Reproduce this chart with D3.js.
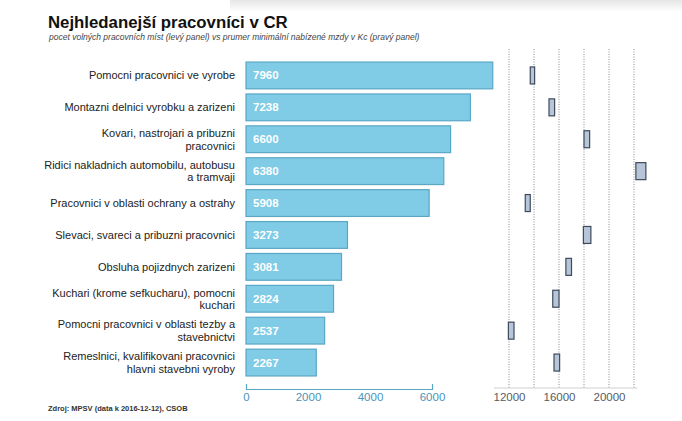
<!DOCTYPE html>
<html><head><meta charset="utf-8">
<script src="https://cdn.jsdelivr.net/npm/d3@7"></script>
<style>body{margin:0;background:#fff}svg{display:block;font-family:Arial,"Liberation Sans",sans-serif}</style>
</head><body>
<script>
const categories = [
  "Pomocni pracovnici ve vyrobe",
  "Montazni delnici vyrobku a zarizeni",
  "Kovari, nastrojari a pribuzni|pracovnici",
  "Ridici nakladnich automobilu, autobusu|a tramvaji",
  "Pracovnici v oblasti ochrany a ostrahy",
  "Slevaci, svareci a pribuzni pracovnici",
  "Obsluha pojizdnych zarizeni",
  "Kuchari (krome sefkucharu), pomocni|kuchari",
  "Pomocni pracovnici v oblasti tezby a|stavebnictvi",
  "Remeslnici, kvalifikovani pracovnici|hlavni stavebni vyroby"
];
const vacancies = [7960, 7238, 6600, 6380, 5908, 3273, 3081, 2824, 2537, 2267];
const wageLow  = [13700, 15200, 18000, 22150, 13300, 17950, 16550, 15500, 11950, 15600];
const wageHigh = [14050, 15650, 18450, 22950, 13700, 18550, 17000, 16000, 12400, 16050];
const leftTicks = [0, 2000, 4000, 6000];
const rightTicks = [12000, 16000, 20000];
const rightGrid = [12000, 14000, 16000, 18000, 20000, 22000];

const W = 682, H = 421;
const svg = d3.select("body").append("svg").attr("width", W).attr("height", H);

// faint photo shading at top
const grad = svg.append("defs").append("linearGradient").attr("id","tg").attr("x1",0).attr("y1",0).attr("x2",0).attr("y2",1);
grad.append("stop").attr("offset",0).attr("stop-color","#e6e6e6");
grad.append("stop").attr("offset",1).attr("stop-color","#ffffff");
svg.append("rect").attr("x",230).attr("y",0).attr("width",452).attr("height",12).attr("fill","url(#tg)");

svg.append("text").attr("x", 48).attr("y", 28).attr("font-size", 16.8).attr("font-weight", "bold")
  .attr("fill", "#111").text("Nejhledanejší pracovníci v CR");
svg.append("text").attr("x", 49).attr("y", 40).attr("font-size", 8.5).attr("font-style", "italic")
  .attr("fill", "#444").text("pocet volných pracovních míst (levý panel) vs prumer minimální nabízené mzdy v Kc (pravý panel)");

const y = d3.scaleBand().domain(d3.range(categories.length)).range([59.5, 378.5]).paddingInner(0.16).paddingOuter(0.08);
const xL = d3.scaleLinear().domain([0, 6000]).range([246, 432]);
const xR = d3.scaleLinear().domain([12000, 20000]).range([509, 609]);

// right gridlines
svg.append("g").selectAll("line").data(rightGrid).join("line")
  .attr("x1", d => xR(d)).attr("x2", d => xR(d)).attr("y1", 49).attr("y2", 388)
  .attr("stroke", "#8a8a8a").attr("stroke-width", 1).attr("stroke-dasharray", "1,1.5");

// bars
svg.append("g").selectAll("rect").data(vacancies).join("rect")
  .attr("x", xL(0)).attr("y", (d, i) => y(i))
  .attr("width", d => xL(d) - xL(0)).attr("height", y.bandwidth())
  .attr("fill", "#80cbe6").attr("stroke", "#5aa7c4").attr("stroke-width", 1.2);
svg.append("g").selectAll("text").data(vacancies).join("text")
  .attr("x", xL(0) + 7).attr("y", (d, i) => y(i) + y.bandwidth() / 2 + 4)
  .attr("font-size", 11.5).attr("font-weight", "bold").attr("fill", "#fff").text(d => d);

// category labels
const lab = svg.append("g").selectAll("text").data(categories).join("text")
  .attr("text-anchor", "end").attr("font-size", 11).attr("fill", "#222");
lab.each(function (d, i) {
  const lines = d.split("|");
  const cy = y(i) + y.bandwidth() / 2;
  const t = d3.select(this);
  lines.forEach((ln, k) => {
    t.append("tspan").attr("x", 235)
      .attr("y", cy + 4 + (k - (lines.length - 1) / 2) * 12.5).text(ln);
  });
});

// wage boxes
const bh = 17;
svg.append("g").selectAll("rect").data(wageLow).join("rect")
  .attr("x", d => xR(d)).attr("y", (d, i) => y(i) + y.bandwidth() / 2 - bh / 2)
  .attr("width", (d, i) => xR(wageHigh[i]) - xR(d)).attr("height", bh)
  .attr("fill", "#b7c5d8").attr("stroke", "#3e4a5c").attr("stroke-width", 1.2);

// left axis
const axL = svg.append("g").attr("transform", "translate(0,389)")
  .call(d3.axisBottom(xL).tickValues(leftTicks).tickSizeInner(0).tickSizeOuter(-5).tickPadding(4).tickFormat(d3.format("d")));
axL.select(".domain").attr("stroke", "#5aa7c4").attr("stroke-width", 1.2);
axL.selectAll("text").attr("font-size", 11.5).attr("fill", "#4b93b8").attr("font-family", "Arial,'Liberation Sans',sans-serif");

// right axis
const axR = svg.append("g").attr("transform", "translate(0,388)")
  .call(d3.axisBottom(xR).tickValues(rightTicks).tickSizeInner(0).tickSizeOuter(0).tickPadding(5).tickFormat(d3.format("d")));
axR.select(".domain").attr("d", `M${xR(10800)},0H${xR(22250)}`).attr("stroke", "#d0d0d0");
axR.selectAll("text").attr("font-size", 11.5).attr("fill", "#555c66").attr("font-family", "Arial,'Liberation Sans',sans-serif");

svg.append("text").attr("x", 48).attr("y", 411).attr("font-size", 7.5).attr("font-weight", "bold")
  .attr("fill", "#333").text("Zdroj: MPSV (data k 2016-12-12), CSOB");
</script>
</body></html>
